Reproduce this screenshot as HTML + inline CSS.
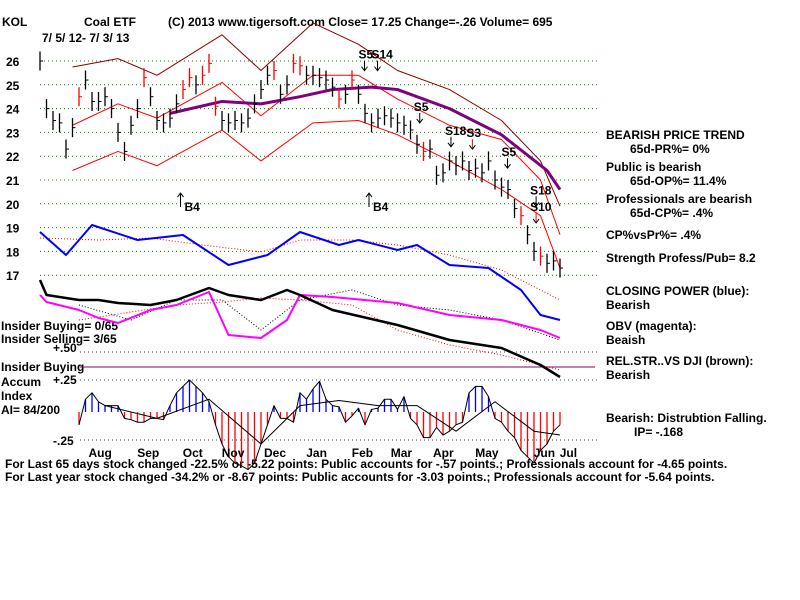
<!DOCTYPE html>
<html><head><meta charset="utf-8"><style>
body{margin:0;background:#fff;}
svg{display:block;}
text{font-family:"Liberation Sans",sans-serif;font-weight:bold;font-size:12px;fill:#000;}
</style></head><body>
<svg id="c" width="800" height="600">
<g id="static">
<text x="2" y="26">KOL</text>
<text x="84" y="26">Coal ETF</text>
<text x="168" y="26">(C) 2013 www.tigersoft.com    Close=  17.25  Change=-.26 Volume= 695</text>
<text x="42" y="42">7/ 5/ 12- 7/ 3/ 13</text>
<g>
<text x="606" y="139">BEARISH PRICE TREND</text>
<text x="630" y="153">65d-PR%= 0%</text>
<text x="606" y="171">Public is bearish</text>
<text x="630" y="185">65d-OP%= 11.4%</text>
<text x="606" y="203">Professionals are bearish</text>
<text x="630" y="217">65d-CP%= .4%</text>
<text x="606" y="239">CP%vsPr%=  .4%</text>
<text x="606" y="262">Strength Profess/Pub= 8.2</text>
<text x="606" y="295">CLOSING POWER (blue):</text>
<text x="606" y="309">Bearish</text>
<text x="606" y="330">OBV (magenta):</text>
<text x="606" y="344">Beaish</text>
<text x="606" y="365">REL.STR..VS DJI (brown):</text>
<text x="606" y="379">Bearish</text>
<text x="606" y="422">Bearish: Distrubtion Falling.</text>
<text x="634" y="436">IP= -.168</text>
</g>
<g>
<text x="1" y="330">Insider Buying= 0/65</text>
<text x="1" y="343">Insider Selling= 3/65</text>
<text x="53" y="352">+.50</text>
<text x="1" y="371">Insider Buying</text>
<text x="53" y="384">+.25</text>
<text x="1" y="386">Accum</text>
<text x="1" y="400">Index</text>
<text x="1" y="414">AI= 84/200</text>
<text x="53" y="445">-.25</text>
</g>
<text x="5" y="468">For Last 65 days stock changed -22.5% or -5.22 points:  Public accounts for -.57 points.;  Professionals account for -4.65 points.</text>
<text x="5" y="481">For Last year stock changed -34.2% or -8.67 points:  Public accounts for -3.03 points.;  Professionals account for -5.64 points.</text>
</g>
</svg>
<script>
const priceTicks=[26,25,24,23,22,21,20,19,18,17];
const closes=[26,24,23.5,23.4,22.3,23.2,24.5,25.2,24.3,24.3,24.5,24,23,22.2,23.3,24,25.3,24.5,23.5,23.4,23.6,24.2,24.8,25.3,25,25.4,25.9,24.1,23.5,23.4,23.5,23.4,23.6,24.2,24.8,25.4,25.6,24.6,25,25.9,25.8,25.4,25.4,25.3,25.2,24.9,24.4,24.6,25.2,24.6,23.8,23.4,23.6,23.7,23.6,23.4,23.3,23.1,22.5,22.2,22.3,21.2,21.3,21.8,21.6,21.8,21.4,21.5,21.3,21.8,21,20.7,20.6,19.8,19.5,18.7,18,17.8,17.5,17.6,17.3];
const upDays=[0,0,0,0,0,0,1,0,0,0,0,0,0,0,0,0,1,0,0,0,0,0,1,1,0,1,1,1,0,0,0,0,0,0,0,0,1,0,0,1,1,0,0,0,0,0,1,0,1,0,0,0,0,0,0,0,0,0,0,1,0,0,0,0,0,0,0,0,0,0,0,0,0,0,1,0,0,1,0,0,0];
const bandDays=[5,12,18,28,34,42,49,55,63,71,77,80];
const upperOuter=[25.75,26.1,25.4,27.1,25.6,27.6,26.7,25.6,24.8,23.5,21.8,19.9];
const upperInner=[23.3,24.2,23.6,25.1,23.7,25.4,25.4,24.4,23.3,22.7,21.0,18.7];
const lowerBand=[21.4,22.2,21.6,23.1,21.8,23.4,23.5,22.9,21.8,20.6,19.5,17.3];
const maDays=[20,28,34,40,45,51,55,63,71,78,80];
const maVals=[23.8,24.3,24.2,24.5,24.8,24.9,24.8,24.0,22.9,21.4,20.6];
const cpDays=[0,4,8,15,22,29,35,40,46,49,55,58,63,69,74,77,80];
const closingPower=[108,85,115,100,105,75,85,108,95,100,90,95,75,72,50,25,20];
const cpMaDays=[0,9,17,25,34,40,48,55,63,71,80];
const cpMa=[102,100,102,95,88,100,100,95,85,70,40];
const lineDays=[0,1,6,9,12,17,21,26,29,34,38,40,45,55,63,71,77,80];
const relStrength=[60,45,40,40,37,35,40,52,45,40,50,45,30,15,0,-8,-25,-37];
const obv=[45,38,30,22,17,30,35,48,5,2,20,45,43,37,25,20,10,2];
const trendDays=[6,14,21,28,34,40,48,55,63,71,80];
const obvTrend=[35,20,40,40,10,40,50,35,30,20,0];
const rsTrend=[20,28,35,38,42,40,35,10,-5,-15,-30];
const accumStart=6;
const accumIdx=[-0.1,0.1,0.15,0.08,0.05,0.05,0.05,-0.05,-0.06,-0.08,-0.08,-0.05,-0.05,-0.06,0.05,0.15,0.2,0.25,0.2,0.15,0.08,-0.1,-0.25,-0.35,-0.4,-0.42,-0.45,-0.4,-0.25,-0.1,0.05,-0.05,-0.05,-0.08,0.15,0.1,0.18,0.24,0.1,0.05,0.04,-0.08,-0.03,0.03,-0.1,0.02,0.03,0.1,0.1,0.02,0.12,-0.05,-0.1,-0.2,-0.2,-0.12,-0.18,-0.15,-0.1,-0.08,0.15,0.2,0.2,0.12,-0.05,-0.08,-0.15,-0.2,-0.3,-0.35,-0.4,-0.3,-0.25,-0.15,-0.1];
const accumMaDays=[10,18,26,34,40,46,52,58,64,70,76,80];
const accumMa=[0.05,-0.05,0.1,-0.25,0.05,0.09,0.05,0.05,-0.15,0.08,-0.15,-0.18];
const monthLabels=["Aug","Sep","Oct","Nov","Dec","Jan","Feb","Mar","Apr","May","Jun","Jul"];
const monthDays=[9,16.5,23.5,29.5,36,42.5,49.5,55.5,62,68.5,77.5,81.5];
const signalLabels=["S5","S14","S5","S18","S3","S5","S18","S10","B4","B4"];
const signalDays=[49,51,57.5,62.3,65.6,71,75.4,75.4,21,50];
const signalPrice=[26.1,26.1,23.9,22.9,22.8,22.0,20.4,19.7,20.2,20.2];

const svg=document.getElementById('c');const NS='http://www.w3.org/2000/svg';
const X0=40,X1=560,N=closes.length;
const xs=d=>X0+d*(X1-X0)/(N-1);
const yp=p=>61+(26-p)*23.8;
const yLine=v=>340-v;
const yAcc=v=>412-v*128;
function mk(t,a){const e=document.createElementNS(NS,t);for(const k in a)e.setAttribute(k,a[k]);svg.appendChild(e);return e;}
function poly(ds,vs,fy,st,w,dash){return mk('polyline',{points:ds.map((d,i)=>xs(d)+','+fy(vs[i])).join(' '),fill:'none',stroke:st,'stroke-width':w,'stroke-dasharray':dash||'none','stroke-linejoin':'round'});}
priceTicks.forEach(p=>{
 const g=mk('line',{x1:40,x2:600,y1:yp(p),y2:yp(p),stroke:'#008000','stroke-dasharray':'1 3'});
 
 
 const t=mk('text',{x:6,y:yp(p)+5});t.textContent=p;
 
 
});
[352,380,440].forEach(y=>{const g=mk('line',{x1:80,x2:600,y1:y,y2:y,stroke:'#444','stroke-dasharray':'1 3'});
 
 });
const hl=mk('line',{x1:80,x2:595,y1:367,y2:367,stroke:'#800060','stroke-width':1});


let e=poly(bandDays,upperOuter,yp,'#8b0000',1);


e=poly(bandDays,upperInner,yp,'#ff0000',1);


e=poly(bandDays,lowerBand,yp,'#ff0000',1);


e=poly(maDays,maVals,yp,'#800080',3);


closes.forEach((c,i)=>{
 const col=upDays[i]?'#ff0000':'#000';const x=xs(i);
 const b=mk('line',{x1:x,x2:x,y1:yp(c+0.4),y2:yp(c-0.4),stroke:col,'stroke-width':1.3});
 
 
 mk('line',{x1:x,x2:x+3,y1:yp(c),y2:yp(c),stroke:col});
});
e=poly(cpMaDays,cpMa,yLine,'#ff0000',1,'1 2');


e=poly(cpDays,closingPower,yLine,'#0000ff',2);


e=poly(trendDays,obvTrend,yLine,'#000',1,'1 2');


e=poly(trendDays,rsTrend,yLine,'#ff0000',1,'1 2');


e=poly(lineDays,obv,yLine,'#ff00ff',2);


e=poly(lineDays,relStrength,yLine,'#000',2.5);


accumIdx.forEach((v,i)=>{const x=xs(i+accumStart);
 const b=mk('line',{x1:x,x2:x,y1:412,y2:yAcc(v),stroke:v>=0?'#0000ff':'#ff0000','stroke-width':1.3});
 
 });
e=poly(accumIdx.map((v,i)=>i+accumStart),accumIdx,yAcc,'#000',1);


e=poly(accumMaDays,accumMa,yAcc,'#000',1);


monthLabels.forEach((m,i)=>{const t=mk('text',{x:xs(monthDays[i])-10,y:457});t.textContent=m;
 
 });
signalLabels.forEach((s,i)=>{const x=xs(signalDays[i]),y=yp(signalPrice[i]);
 const buy=s[0]==='B';
 const t=mk('text',{x:buy?x+8:x,y:buy?y+12:y});t.textContent=s;
 
 
 if(buy){mk('line',{x1:x+4,x2:x+4,y1:y-6,y2:y+8,stroke:'#000'});mk('polyline',{points:(x+1)+','+(y-2)+' '+(x+4)+','+(y-6)+' '+(x+7)+','+(y-2),fill:'none',stroke:'#000'});}
 else{mk('line',{x1:x+6,x2:x+6,y1:y+2,y2:y+12,stroke:s==='S3'||s==='S10'?'#f00':'#000'});mk('polyline',{points:(x+3)+','+(y+8)+' '+(x+6)+','+(y+12)+' '+(x+9)+','+(y+8),fill:'none',stroke:'#000'});}
});
</script>
</body></html>
